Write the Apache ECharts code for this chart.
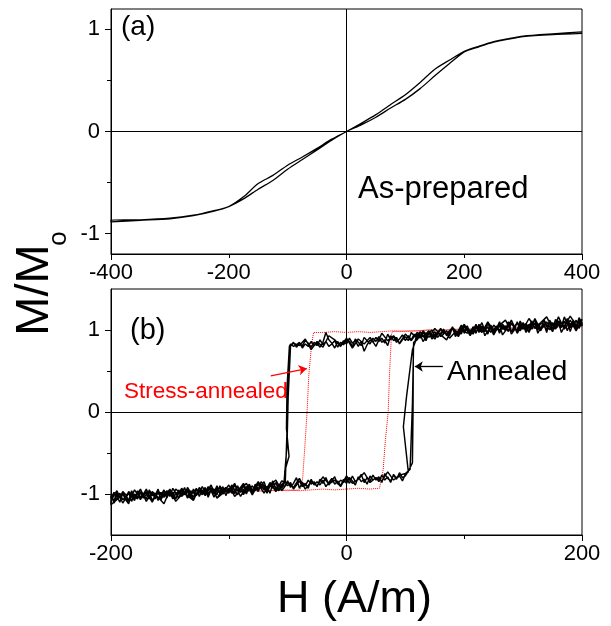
<!DOCTYPE html>
<html>
<head>
<meta charset="utf-8">
<script src="https://cdn.jsdelivr.net/npm/echarts@6/dist/echarts.min.js"></script>
<style>
  html, body { margin: 0; padding: 0; background: #fff; }
  #chart { width: 611px; height: 626px; }
</style>
</head>
<body>
<div id="chart"></div>
<script>
// ---------- (a) As-prepared ribbon: M/Mo vs H (A/m) ----------
const asPreparedDescH = [400, 350, 300, 275, 250, 225, 200, 175, 150, 125, 100, 75, 50, 25, 0,
  -25, -50, -75, -100, -125, -150, -175, -200, -225, -260, -300, -350, -400];
const asPreparedDescM = [0.975, 0.957, 0.935, 0.91, 0.88, 0.835, 0.785, 0.70, 0.61, 0.48, 0.36, 0.265, 0.165, 0.08, 0.0,
  -0.075, -0.165, -0.25, -0.33, -0.43, -0.51, -0.64, -0.735, -0.775, -0.82, -0.85, -0.865, -0.868];
const asPreparedAscH = [-400, -350, -300, -260, -225, -200, -175, -150, -125, -100, -75, -50, -25, 0,
  25, 50, 75, 100, 125, 150, 175, 200, 225, 250, 275, 300, 350, 400];
const asPreparedAscM = [-0.885, -0.87, -0.855, -0.825, -0.78, -0.735, -0.66, -0.565, -0.48, -0.37, -0.275, -0.18, -0.085, 0.0,
  0.065, 0.14, 0.23, 0.315, 0.42, 0.545, 0.665, 0.78, 0.83, 0.875, 0.905, 0.93, 0.95, 0.962];

// ---------- (b) Annealed ribbon (black), three recorded cycles ----------
const sweepStep = 2.5;     // cycles 1 and 2
const coarseStep = 5;      // cycle 3

// cycle 1 — upper branch, H from 200 down to -47.5
const annealedUpperDown = [
  1.10, 1.02, 1.12, 1.04, 1.08, 0.99, 1.11, 1.03, 1.07, 1.01,
  1.09, 1.00, 1.06, 1.13, 0.99, 1.05, 1.02, 1.10, 0.98, 1.06,
  1.01, 1.08, 0.97, 1.04, 1.09, 0.98, 1.03, 1.07, 0.96, 1.05,
  1.00, 1.06, 0.95, 1.03, 0.99, 1.07, 0.96, 1.02, 0.94, 1.01,
  1.04, 0.95, 0.99, 0.92, 1.03, 0.97, 0.93, 1.01, 0.96, 0.91,
  0.98, 0.92, 0.96, 0.89, 0.99, 0.93, 0.90, 0.95, 0.88, 0.93,
  0.87, 0.94, 0.89, 0.85, 0.92, 0.88, 0.95, 0.84, 0.90, 0.86,
  0.91, 0.85, 0.88, 0.82, 0.74, 0.86, 0.80, 0.87, 0.84, 0.90,
  0.83, 0.87, 0.81, 0.86, 0.78, 0.84, 0.88, 0.97, 0.85, 0.79,
  0.84, 0.81, 0.86, 0.80, 0.83, 0.78, 0.85, 0.82, 0.80, 0.83
];
// cycle 1 — switching at the negative coercive field, [H, M]
const annealedSwitchDown = [[-48.5, 0.80], [-50.5, 0.30], [-51, -0.20], [-48.8, -0.54], [-52.4, -0.72], [-52.5, -0.86]];
// cycle 1 — lower branch, H from -55 down to -200
const annealedLowerDown = [
  -0.93, -0.88, -0.95, -0.84, -0.91, -0.97, -0.89, -0.93, -0.87, -0.96,
  -0.90, -0.94, -0.99, -0.89, -0.95, -0.91, -1.00, -0.93, -0.97, -0.92,
  -0.98, -0.90, -1.01, -0.94, -0.97, -0.91, -0.99, -0.95, -1.03, -0.93,
  -0.99, -0.96, -1.04, -0.92, -1.00, -0.97, -0.94, -1.02, -0.96, -1.05,
  -0.95, -1.01, -0.97, -1.06, -0.98, -1.03, -0.94, -1.00, -1.07, -0.99,
  -1.04, -0.96, -1.08, -1.01, -0.97, -1.05, -1.00, -1.09, -1.02
];
// cycle 1 — lower branch, H from -200 up to 52.5
const annealedLowerUp = [
  -1.06, -0.98, -1.03, -1.10, -0.99, -1.05, -0.97, -1.02, -1.08, -0.96,
  -1.04, -1.00, -0.95, -1.06, -0.98, -1.02, -0.94, -1.07, -1.00, -0.96,
  -1.03, -0.93, -0.99, -1.05, -0.95, -1.01, -0.92, -0.98, -1.04, -0.94,
  -0.99, -0.91, -0.97, -1.02, -0.93, -0.98, -0.90, -1.00, -0.95, -0.92,
  -0.98, -0.89, -0.95, -1.01, -0.92, -0.87, -0.96, -0.91, -0.99, -0.88,
  -0.94, -0.90, -0.85, -0.96, -0.89, -0.93, -0.86, -0.95, -0.88, -0.91,
  -0.84, -0.92, -0.87, -0.80, -0.93, -0.86, -0.90, -0.83, -0.88, -0.85,
  -0.91, -0.82, -0.87, -0.80, -0.89, -0.84, -0.79, -0.88, -0.83, -0.86,
  -0.81, -0.87, -0.78, -0.85, -0.82, -0.76, -0.86, -0.80, -0.84, -0.77,
  -0.83, -0.79, -0.86, -0.75, -0.81, -0.84, -0.77, -0.82, -0.74, -0.80,
  -0.78, -0.72
];
// cycle 1 — switching at the positive coercive field, [H, M]
const annealedSwitchUp = [[56, -0.62], [56.5, 0.0], [56.8, 0.80], [58.5, 0.88]];
// cycle 1 — upper branch, H from 60 up to 200
const annealedUpperUp = [
  0.95, 0.90, 0.97, 0.92, 0.99, 0.93, 0.89, 0.98, 0.94,
  1.01, 0.93, 0.97, 1.04, 0.95, 0.99, 1.06, 0.96, 1.02, 0.94,
  1.00, 1.07, 0.97, 1.03, 0.98, 1.08, 1.01, 0.96, 1.05, 0.99,
  1.06, 1.00, 1.10, 0.98, 1.04, 1.09, 1.01, 1.07, 0.99, 1.05,
  1.11, 1.02, 1.07, 0.99, 1.12, 1.04, 1.08, 1.01, 1.13, 1.05,
  1.09, 1.02, 1.14, 1.06, 1.10, 1.03, 1.15, 1.08
];

// cycle 2 — upper branch, H from 200 down to -47.5
const annealedUpperDown2 = [
  1.05, 1.13, 1.00, 1.09, 0.98, 1.12, 1.04, 0.97, 1.10, 1.06,
  1.01, 1.11, 0.97, 1.08, 1.03, 0.96, 1.09, 1.01, 1.07, 0.97,
  1.06, 0.99, 1.10, 1.00, 0.95, 1.07, 0.99, 0.94, 1.06, 1.00,
  0.97, 1.04, 0.99, 0.93, 1.05, 0.98, 1.03, 0.95, 1.00, 0.96,
  0.99, 1.03, 0.93, 0.98, 0.94, 0.90, 0.99, 0.95, 0.92, 0.98,
  0.94, 0.89, 0.97, 0.91, 0.86, 0.95, 0.90, 0.93, 0.97, 0.87,
  0.92, 0.88, 0.83, 0.91, 0.87, 0.93, 0.81, 0.88, 0.85, 0.92,
  0.86, 0.90, 0.83, 0.87, 0.91, 0.81, 0.85, 0.89, 0.80, 0.86,
  0.88, 0.82, 0.85, 0.79, 0.87, 0.83, 0.80, 0.86, 0.82, 0.88,
  0.81, 0.85, 0.79, 0.84, 0.87, 0.81, 0.84, 0.79, 0.85, 0.81
];
const annealedSwitchDown2 = [[-49.5, 0.20], [-50.5, -0.40], [-53, -0.85]];
// cycle 2 — lower branch, H from -55 down to -200
const annealedLowerDown2 = [
  -0.89, -0.96, -0.86, -0.92, -0.88, -0.99, -0.90, -0.85, -0.94, -0.91,
  -0.97, -0.88, -0.93, -1.01, -0.92, -0.96, -0.89, -0.98, -0.94, -1.02,
  -0.91, -0.97, -0.93, -1.00, -0.95, -1.04, -0.92, -0.98, -0.96, -1.01,
  -0.94, -1.05, -0.97, -0.99, -1.03, -0.95, -1.06, -0.98, -1.01, -0.96,
  -1.03, -0.98, -1.08, -0.99, -1.02, -0.95, -1.06, -1.01, -0.97, -1.04,
  -1.00, -1.09, -0.98, -1.03, -1.07, -0.99, -1.05, -1.11, -1.00
];
// cycle 2 — lower branch, H from -200 up to 52.5
const annealedLowerUp2 = [
  -1.01, -1.09, -0.97, -1.04, -1.00, -1.07, -1.12, -0.99, -1.03, -1.06,
  -0.98, -1.05, -1.01, -0.97, -1.08, -1.02, -0.99, -1.04, -0.96, -1.01,
  -0.98, -1.06, -1.00, -0.96, -1.03, -0.97, -1.05, -0.99, -0.95, -1.02,
  -0.96, -1.01, -0.93, -0.99, -0.96, -1.04, -0.95, -0.93, -1.00, -0.97,
  -0.93, -0.99, -0.96, -0.90, -0.98, -0.94, -1.00, -0.89, -0.95, -0.92,
  -0.97, -0.88, -0.94, -0.91, -0.99, -0.87, -0.92, -0.96, -0.90, -0.85,
  -0.90, -0.86, -0.94, -0.89, -0.84, -0.91, -0.87, -0.93, -0.82, -0.89,
  -0.85, -0.89, -0.83, -0.91, -0.86, -0.81, -0.88, -0.84, -0.90, -0.82,
  -0.87, -0.80, -0.84, -0.89, -0.79, -0.85, -0.82, -0.88, -0.78, -0.83,
  -0.80, -0.85, -0.77, -0.83, -0.79, -0.86, -0.76, -0.81, -0.78, -0.84,
  -0.76, -0.73
];
// cycle 2 — slower switching pass at the positive coercive field, [H, M]
const annealedSwitchUp2 = [[48.3, -0.18], [51, 0.19], [56, 0.76], [58.5, 0.86]];
// cycle 2 — upper branch, H from 60 up to 200
const annealedUpperUp2 = [
  0.91, 0.98, 0.93, 0.87, 0.96, 1.00, 0.92, 0.97, 1.02,
  0.95, 0.99, 0.93, 1.03, 0.98, 0.95, 1.02, 0.99, 1.05, 0.97,
  1.04, 0.98, 1.02, 1.09, 0.99, 1.04, 0.97, 1.06, 1.02, 1.10,
  1.01, 1.05, 0.99, 1.08, 1.03, 1.00, 1.11, 1.04, 1.08, 1.02,
  1.06, 1.13, 1.00, 1.09, 1.05, 1.01, 1.12, 1.06, 1.03, 1.10,
  1.04, 1.16, 1.07, 1.03, 1.12, 1.06, 1.10, 1.13
];

// cycle 3 — upper branch, H from 200 down to -45
const annealedUpperDown3 = [
  1.15, 0.99, 1.12, 1.01, 1.16, 0.98, 1.10, 1.00, 1.14, 0.97,
  1.09, 0.96, 1.12, 0.99, 1.07, 0.94, 1.10, 0.97, 1.05, 0.93,
  1.06, 0.92, 1.03, 0.95, 1.01, 0.89, 0.99, 0.92, 0.97, 0.87,
  0.95, 0.84, 0.93, 0.87, 0.96, 0.80, 0.91, 0.83, 0.89, 0.78,
  0.90, 0.80, 0.88, 0.93, 0.79, 0.86, 0.76, 0.89, 0.81, 0.84
];
const annealedSwitchDown3 = [[-48, 0.80], [-50, 0.0], [-52, -0.86]];
// cycle 3 — lower branch, H from -55 down to -200
const annealedLowerDown3 = [
  -0.84, -0.97, -0.86, -0.99, -0.88, -1.01, -0.87, -0.95, -1.03, -0.89,
  -0.99, -1.05, -0.90, -1.02, -0.93, -1.07, -0.95, -1.01, -1.09, -0.94,
  -1.04, -0.96, -1.10, -0.98, -1.06, -0.95, -1.11, -1.00, -1.07, -1.13
];
// cycle 3 — lower branch, H from -200 up to 50
const annealedLowerUp3 = [
  -1.08, -0.96, -1.11, -0.99, -1.05, -0.94, -1.09, -0.97, -1.04, -1.12,
  -0.95, -1.06, -0.93, -1.02, -1.08, -0.92, -1.00, -0.89, -1.05, -0.94,
  -0.99, -0.87, -1.03, -0.91, -0.97, -0.85, -0.95, -0.90, -0.83, -0.96,
  -0.86, -0.92, -0.81, -0.94, -0.85, -0.90, -0.79, -0.88, -0.83, -0.91,
  -0.78, -0.87, -0.82, -0.74, -0.86, -0.80, -0.84, -0.73, -0.83, -0.77,
  -0.75
];
const annealedSwitchUp3 = [[54, -0.70], [56, 0.10], [57, 0.85]];
// cycle 3 — upper branch, H from 60 up to 200
const annealedUpperUp3 = [
  0.88, 0.99, 0.91, 1.02, 0.94, 0.88, 1.03, 0.96, 1.07, 0.95,
  1.04, 0.97, 1.10, 0.99, 1.06, 1.12, 0.98, 1.08, 1.01, 1.14,
  1.03, 1.09, 1.16, 1.02, 1.11, 1.05, 1.17, 1.06, 1.12
];

// ---------- (b) Stress-annealed ribbon (red, dotted) ----------
const stressUpperDownH = [200, 190, 180, 170, 160, 150, 140, 130, 120, 110, 100, 90, 80, 70, 60, 50, 40, 30, 20, 10, 0, -10, -20, -28];
const stressUpperDownM = [1.04, 1.05, 1.03, 1.04, 1.02, 1.03, 1.02, 1.01, 1.02, 1.00, 1.01, 1.00, 0.99, 1.00, 0.99, 0.98, 0.99, 0.98, 0.97, 0.98, 0.97, 0.98, 0.97, 0.97];
const stressSwitchDown = [[-29.8, 0.80], [-32, 0.45], [-33.5, 0.0], [-35.5, -0.45], [-37.2, -0.80], [-38.2, -0.91]];
const stressLowerDownH = [-40, -50, -60, -70, -80, -90, -100, -110, -120, -130, -140, -150, -160, -170, -180, -190, -200];
const stressLowerDownM = [-0.95, -0.96, -0.95, -0.97, -0.96, -0.97, -0.98, -0.97, -0.98, -0.99, -0.98, -0.99, -1.00, -0.99, -1.01, -1.00, -1.01];
const stressLowerUpH = [-200, -190, -180, -170, -160, -150, -140, -130, -120, -110, -100, -90, -80, -70, -60, -50, -40, -30, -20, -10, 0, 10, 20, 28];
const stressLowerUpM = [-1.02, -1.00, -1.01, -0.99, -1.00, -0.98, -0.99, -0.97, -0.98, -0.97, -0.96, -0.97, -0.96, -0.95, -0.96, -0.95, -0.96, -0.95, -0.94, -0.95, -0.94, -0.93, -0.94, -0.93];
const stressSwitchUp = [[31.1, -0.71], [33, -0.35], [35.4, 0.0], [36.5, 0.45], [38.2, 0.95], [39, 0.98]];
const stressUpperUpH = [40, 50, 60, 70, 80, 90, 100, 110, 120, 130, 140, 150, 160, 170, 180, 190, 200];
const stressUpperUpM = [0.98, 0.99, 0.99, 1.00, 1.00, 1.01, 1.01, 1.02, 1.02, 1.03, 1.03, 1.03, 1.04, 1.04, 1.05, 1.04, 1.05];

// ---------- tick labels ----------
const topXTicks = [-400, -200, 0, 200, 400];
const bottomXTicks = [-200, 0, 200];
const yTicks = [-1, 0, 1];
const yMinorTicks = [-0.5, 0.5];

// ---------- annotation arrows (data units) ----------
const stressArrow = [[-64.3, 0.44], [-33.7, 0.53]];
const annealedArrow = [[81.8, 0.555], [58, 0.555]];

// ---------- helpers ----------
const zip = (hs, ms) => hs.map((h, i) => [h, ms[i]]);
const sweep = (start, step, ms) => ms.map((m, i) => [start + i * step, m]);

const asPreparedLoop = zip(asPreparedDescH, asPreparedDescM).concat(zip(asPreparedAscH, asPreparedAscM));

const annealedLoop = []
  .concat(sweep(200, -sweepStep, annealedUpperDown))
  .concat(annealedSwitchDown)
  .concat(sweep(-55, -sweepStep, annealedLowerDown))
  .concat(sweep(-200, sweepStep, annealedLowerUp))
  .concat(annealedSwitchUp)
  .concat(sweep(60, sweepStep, annealedUpperUp))
  .concat(sweep(200, -sweepStep, annealedUpperDown2))
  .concat(annealedSwitchDown2)
  .concat(sweep(-55, -sweepStep, annealedLowerDown2))
  .concat(sweep(-200, sweepStep, annealedLowerUp2))
  .concat(annealedSwitchUp2)
  .concat(sweep(60, sweepStep, annealedUpperUp2))
  .concat(sweep(200, -coarseStep, annealedUpperDown3))
  .concat(annealedSwitchDown3)
  .concat(sweep(-55, -coarseStep, annealedLowerDown3))
  .concat(sweep(-200, coarseStep, annealedLowerUp3))
  .concat(annealedSwitchUp3)
  .concat(sweep(60, coarseStep, annealedUpperUp3));

const stressLoop = zip(stressUpperDownH, stressUpperDownM)
  .concat(stressSwitchDown)
  .concat(zip(stressLowerDownH, stressLowerDownM))
  .concat(zip(stressLowerUpH, stressLowerUpM))
  .concat(stressSwitchUp)
  .concat(zip(stressUpperUpH, stressUpperUpM));

// ---------- styling ----------
const FONT = '"Liberation Sans", Arial, Helvetica, sans-serif';
const INK = '#000';

function xAxisFor(gridIndex, min, max, ticks) {
  return {
    type: 'value', gridIndex, min, max, interval: max,
    axisLine: { show: true, onZero: false, lineStyle: { color: INK, width: 1 } },
    axisTick: { show: true, inside: false, length: 6, lineStyle: { color: INK, width: 1 } },
    minorTick: { show: true, splitNumber: 2, length: 4, lineStyle: { color: INK, width: 1 } },
    axisLabel: { show: true, color: INK, fontSize: 22, fontFamily: FONT, margin: 8,
      customValues: ticks, showMinLabel: true, showMaxLabel: true },
    splitLine: { show: false }, minorSplitLine: { show: false }
  };
}
function yAxisFor(gridIndex, min, max) {
  return {
    type: 'value', gridIndex, min, max,
    axisLine: { show: true, onZero: false, lineStyle: { color: INK, width: 1 } },
    axisTick: { show: true, inside: false, length: 6, customValues: yTicks, lineStyle: { color: INK, width: 1 } },
    axisLabel: { show: true, color: INK, fontSize: 22, fontFamily: FONT, margin: 11, customValues: yTicks },
    splitLine: { show: false }
  };
}
function yAxisMinor(gridIndex, min, max) {
  return {
    type: 'value', gridIndex, min, max, position: 'left',
    axisLine: { show: false, onZero: false },
    axisTick: { show: true, inside: false, length: 4, customValues: yMinorTicks, lineStyle: { color: INK, width: 1 } },
    axisLabel: { show: false }, splitLine: { show: false }
  };
}

const zeroLines = {
  silent: true, symbol: 'none', animation: false,
  label: { show: false },
  lineStyle: { color: INK, width: 1, type: 'solid' },
  emphasis: { disabled: true },
  data: [{ xAxis: 0 }, { yAxis: 0 }]
};

function arrowMark(points, color) {
  return {
    silent: true, animation: false,
    symbol: ['none', 'arrow'], symbolSize: 8,
    label: { show: false },
    lineStyle: { color, width: 1.3, type: 'solid' },
    itemStyle: { color },
    emphasis: { disabled: true },
    data: [[{ coord: points[0] }, { coord: points[1] }]]
  };
}

function textEl(text, x, y, size, color) {
  return {
    type: 'text', x, y, silent: true,
    style: { text, fill: color, fontSize: size, fontFamily: FONT,
      align: 'left', verticalAlign: 'middle', textAlign: 'left', textVerticalAlign: 'middle' }
  };
}

const chart = echarts.init(document.getElementById('chart'), null, { renderer: 'canvas' });

chart.setOption({
  animation: false,
  backgroundColor: '#fff',
  grid: [
    { left: 111, top: 9, width: 471, height: 245, show: true, borderColor: INK, borderWidth: 1, backgroundColor: 'transparent' },
    { left: 111, top: 289, width: 471, height: 246, show: true, borderColor: INK, borderWidth: 1, backgroundColor: 'transparent' }
  ],
  xAxis: [
    xAxisFor(0, -400, 400, topXTicks),
    xAxisFor(1, -200, 200, bottomXTicks)
  ],
  yAxis: [
    yAxisFor(0, -1.2, 1.2),
    yAxisFor(1, -1.5, 1.5),
    yAxisMinor(0, -1.2, 1.2),
    yAxisMinor(1, -1.5, 1.5)
  ],
  series: [
    {
      name: 'As-prepared', type: 'line', xAxisIndex: 0, yAxisIndex: 0,
      data: asPreparedLoop, showSymbol: false, smooth: 0.25,
      lineStyle: { color: INK, width: 1.3 },
      markLine: zeroLines
    },
    {
      name: 'Stress-annealed', type: 'line', xAxisIndex: 1, yAxisIndex: 1,
      data: stressLoop, showSymbol: false, z: 2,
      lineStyle: { color: '#ff0000', width: 1, type: 'dotted' },
      markLine: zeroLines
    },
    {
      name: 'Annealed', type: 'line', xAxisIndex: 1, yAxisIndex: 1,
      data: annealedLoop, showSymbol: false, z: 3,
      lineStyle: { color: INK, width: 1.45 },
      markLine: arrowMark(annealedArrow, INK)
    },
    {
      name: 'Stress-annealed pointer', type: 'line', xAxisIndex: 1, yAxisIndex: 1,
      data: [], showSymbol: false, z: 4,
      markLine: arrowMark(stressArrow, '#ff0000')
    }
  ],
  graphic: [
    textEl('(a)', 121, 27, 28, INK),
    textEl('As-prepared', 358, 189, 31, INK),
    textEl('(b)', 130, 331, 29, INK),
    textEl('Stress-annealed', 124, 392, 22.5, '#ff0000'),
    textEl('Annealed', 447, 372, 28.5, INK),
    {
      type: 'text', x: 354.5, y: 600, silent: true,
      style: { text: 'H (A/m)', fill: INK, fontSize: 45, fontFamily: FONT,
        align: 'center', verticalAlign: 'middle', textAlign: 'center', textVerticalAlign: 'middle' }
    },
    {
      type: 'text', x: 34.6, y: 290, rotation: Math.PI / 2, silent: true,
      style: { text: 'M/M', fill: INK, fontSize: 47, fontFamily: FONT,
        align: 'center', verticalAlign: 'middle', textAlign: 'center', textVerticalAlign: 'middle' }
    },
    {
      type: 'text', x: 59, y: 238.5, rotation: Math.PI / 2, silent: true,
      style: { text: 'o', fill: INK, fontSize: 26, fontFamily: FONT,
        align: 'center', verticalAlign: 'middle', textAlign: 'center', textVerticalAlign: 'middle' }
    }
  ]
});
</script>
</body>
</html>
